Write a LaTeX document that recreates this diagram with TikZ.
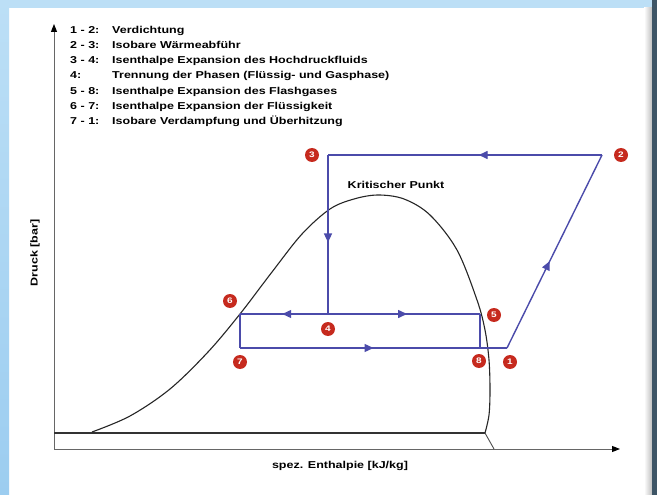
\documentclass[tikz,border=0pt]{standalone}
\usepackage{fontspec}
\newfontfamily\diagfont{Liberation Sans}[FakeStretch=1.25]
\usetikzlibrary{arrows.meta, decorations.markings}

\definecolor{cyclecol}{HTML}{4B4BAA}
\definecolor{markred}{HTML}{C62A1E}
\definecolor{frameblue}{HTML}{BCDFF6}
\definecolor{frameside}{HTML}{9CCDF0}
\definecolor{frameslate}{HTML}{3E5566}

\begin{document}
\begin{tikzpicture}[
    x=1pt, y=-1pt,
    txt/.style={font=\diagfont\bfseries\fontsize{10}{12}\selectfont, inner sep=0pt},
    numdot/.style={
        circle, fill=markred, text=white, inner sep=0pt, minimum size=14pt,
        font=\diagfont\bfseries\fontsize{8}{8}\selectfont
    },
    axis/.style={draw=black!60, line width=1pt, -{Triangle[length=8pt,width=6pt,color=black]}},
    cycle/.style={draw=cyclecol, line width=1.4pt},
    flow/.style={
        postaction={decorate},
        decoration={markings, mark=at position #1 with {\arrow{Triangle[length=9pt,width=8pt]}}}
    },
    curve/.style={draw=black!85, line width=1.1pt}
]

%% Frame and background
\useasboundingbox (0,0) rectangle (657,495);
\fill[white] (0,0) rectangle (657,495);
\fill[frameblue] (0,0) rectangle (652,8);
\shade[top color=frameblue, bottom color=frameside] (0,0) rectangle (9,495);
\shade[left color=white, right color=black!25] (644,8) rectangle (652,495);
\fill[frameslate] (652,0) rectangle (657,495);

%% Axes
\coordinate (org)  at (54,449);
\coordinate (ytop) at (54,24);
\coordinate (xend) at (620,449);
\draw[axis] (org) -- (ytop);
\draw[axis] (org) -- (xend);
\node (ylab) [txt, rotate=90] at (35,253) {Druck [bar]};
\node (xlab) [txt] at (340,466) {spez. Enthalpie [kJ/kg]};

%% Saturation line
\coordinate (base1) at (54,433);
\coordinate (base2) at (485,433);
\coordinate (tail)  at (494,449);
\draw[black!80, line width=1.8pt] (base1) -- (base2);
\draw[black!70, line width=0.9pt] (base2) -- (tail);
\draw[curve] plot[smooth, tension=0.55] coordinates {
    (92,432) (130,416) (170,389) (208,352) (240,314) (272,272)
    (302,234) (330,209) (354,199) (378,195) (404,199) (430,215)
    (457,250) (477,300) (485,330) (489,360) (490,390) (489,415)
    (485,433)};
\node (crit) [txt] at (396,185) {Kritischer Punkt};

%% Cycle points
\coordinate (c1) at (507,348);
\coordinate (c2) at (602,155);
\coordinate (c3) at (328,155);
\coordinate (c4) at (328,314);
\coordinate (c5) at (480,314);
\coordinate (c6) at (240,314);
\coordinate (c7) at (240,348);
\coordinate (c8) at (480,348);

%% Cycle lines
\draw[cycle, flow=0.45] (c1) -- (c2);
\draw[cycle, flow=0.45] (c2) -- (c3);
\draw[cycle, flow=0.55] (c3) -- (c4);
\draw[cycle, flow=0.52] (c4) -- (c6);
\draw[cycle, flow=0.52] (c4) -- (c5);
\draw[cycle] (c6) -- (c7);
\draw[cycle] (c5) -- (c8);
\draw[cycle, flow=0.5] (c7) -- (c1);

%% Point markers
\node (n1) [numdot] at (510,362) {1};
\node (n2) [numdot] at (621,155) {2};
\node (n3) [numdot] at (312,155) {3};
\node (n4) [numdot] at (328,329) {4};
\node (n5) [numdot] at (494,315) {5};
\node (n6) [numdot] at (230,301) {6};
\node (n7) [numdot] at (240,362) {7};
\node (n8) [numdot] at (479,361) {8};

%% Legend
\foreach \step/\desc [count=\i] in {
    1 - 2:/Verdichtung,
    2 - 3:/Isobare Wärmeabführ,
    3 - 4:/Isenthalpe Expansion des Hochdruckfluids,
    4:/Trennung der Phasen (Flüssig- und Gasphase),
    5 - 8:/Isenthalpe Expansion des Flashgases,
    6 - 7:/Isenthalpe Expansion der Flüssigkeit,
    7 - 1:/Isobare Verdampfung und Überhitzung}
{
    \node (lnum\i) [txt, anchor=base west] at (70,{33.1+15.3*(\i-1)}) {\step};
    \node (ltxt\i) [txt, anchor=base west] at (112,{33.1+15.3*(\i-1)}) {\desc};
}

\end{tikzpicture}
\end{document}
